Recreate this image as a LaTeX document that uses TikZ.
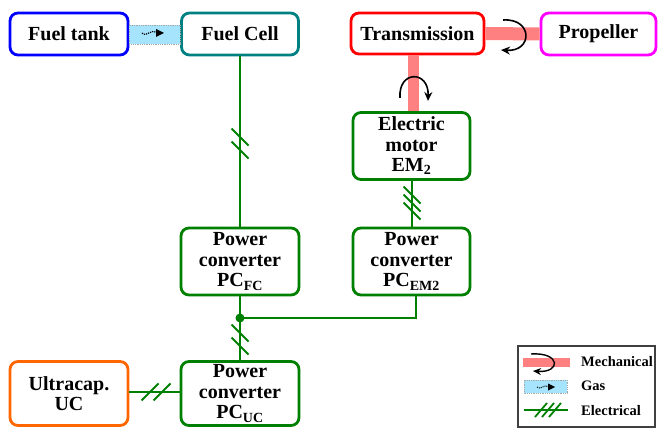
\documentclass[tikz,border=0pt]{standalone}
\usepackage{fontspec}
\setmainfont{Liberation Serif}
\usetikzlibrary{arrows.meta,calc}
\definecolor{cblue}{RGB}{0,0,255}
\definecolor{cteal}{RGB}{0,128,128}
\definecolor{cred}{RGB}{255,0,0}
\definecolor{cmag}{RGB}{255,0,255}
\definecolor{cgreen}{RGB}{0,128,0}
\definecolor{corange}{RGB}{255,102,0}
\definecolor{cmech}{RGB}{255,128,128}
\definecolor{cgas}{RGB}{165,228,252}
\tikzset{
  blk/.style={draw, line width=2.8pt, rounded corners=8pt, fill=white, align=center,
    font=\bfseries\fontsize{20}{20.5}\selectfont, inner sep=0pt},
  elec/.style={draw=cgreen, line width=2.3pt},
  hatchd/.style={cgreen, line width=1.8pt},
  mech/.style={draw=cmech, line width=13pt},
  rot/.style={line width=1.6pt, -{Stealth[length=9pt,width=8pt]}},
  legtxt/.style={anchor=west, font=\bfseries\fontsize{14.5}{15}\selectfont, inner sep=0pt},
  gasbox/.style={fill=cgas, draw=gray!70, densely dotted, line width=0.8pt},
  hdown/.pic={\draw[hatchd] (-8.5,-8.5) -- (8.5,8.5);},
  hup/.pic={\draw[hatchd] (-8.5,8.5) -- (8.5,-8.5);}
}
\begin{document}
\begin{tikzpicture}[x=1pt,y=-1pt]
\useasboundingbox (0,0) rectangle (658,430);
% nodes
\node[blk, draw=cblue, minimum width=118pt, minimum height=42pt] (tank) at (69,34) {Fuel tank};
\node[blk, draw=cteal, minimum width=117pt, minimum height=42pt] (fc) at (240,34) {Fuel Cell};
\node[blk, draw=cred, minimum width=133pt, minimum height=41pt] (trans) at (417.5,33.5) {Transmission};
\node[blk, draw=cmag, minimum width=115pt, minimum height=42pt] (prop) at (598.5,34) {Propeller};
\node[blk, draw=cgreen, minimum width=117pt, minimum height=67pt] (em) at (411.5,146) {Electric\\motor\\EM\textsubscript{2}};
\node[blk, draw=cgreen, minimum width=117pt, minimum height=67pt] (pcem) at (411.5,261.5) {Power\\converter\\PC\textsubscript{EM2}};
\node[blk, draw=cgreen, minimum width=118pt, minimum height=67pt] (pcfc) at (240,261.5) {Power\\converter\\PC\textsubscript{FC}};
\node[blk, draw=cgreen, minimum width=118pt, minimum height=64pt] (pcuc) at (240,393.5) {Power\\converter\\PC\textsubscript{UC}};
\node[blk, draw=corange, minimum width=118pt, minimum height=64pt] (uc) at (69,393.5) {Ultracap.\\UC};
% mechanical links
\draw[mech] (trans.east) -- (prop.west);
\coordinate (tb) at ([xshift=-4pt]trans.south);
\draw[draw=cmech, line width=11pt] (tb) -- (tb |- em.north);
\draw[rot] (503,20) .. controls (533,18) and (533,52) .. (501,50);
\draw[rot] (400,98) .. controls (398,70) and (429,70) .. (428,101);
% gas link
\path[gasbox] ([yshift=-10pt]tank.east) rectangle ([yshift=9pt]fc.west);
\draw[line width=1.2pt, densely dotted] (142,33) .. controls (147,38) and (150,28) .. (157,33);
\fill (156,29) -- (164,33) -- (156,37) -- cycle;
% electrical links
\draw[elec] (fc.south) -- (pcfc.north);
\pic at (240,137) {hdown};
\pic at (240,150) {hdown};
\draw[elec] ([xshift=0.5pt]em.south) -- ([xshift=0.5pt]pcem.north);
\pic at (412,195) {hdown};
\pic at (412,203) {hdown};
\pic at (412,211) {hdown};
\coordinate (jn) at (pcfc.south |- 0,318);
\coordinate (emb) at ([xshift=4.5pt]pcem.south);
\draw[elec] (pcfc.south) -- (jn) -- (jn -| emb) -- (emb);
\fill[cgreen] (jn) circle (4.5pt);
\draw[elec] (jn) -- (pcuc.north);
\pic at (240,333) {hdown};
\pic at (240,346) {hdown};
\draw[elec] (uc.east |- 0,392) -- (pcuc.west |- 0,392);
\pic at (150,392) {hup};
\pic at (162,392) {hup};
% legend
\node[draw=black!75, line width=1.2pt, minimum width=137pt, minimum height=81pt, inner sep=0pt] (leg) at (586.5,386.5) {};
\fill[cmech] (523,358) rectangle (570,367);
\draw[rot, line width=1.4pt, -{Stealth[length=8pt,width=7pt]}] (531,354) .. controls (561,352) and (561,373) .. (533,371);
\node[legtxt] (lm) at (581,362) {Mechanical};
\path[gasbox] (524,380) rectangle (567,393);
\draw[line width=1pt, densely dotted] (537,387) .. controls (541,391) and (544,383) .. (549,387);
\fill (548,383.5) -- (555,387) -- (548,390.5) -- cycle;
\node[legtxt] (lg) at (581,386) {Gas};
\draw[elec] (524,410) -- (568,410);
\draw[hatchd] (535,417) -- (547,403);
\draw[hatchd] (542,417) -- (554,403);
\draw[hatchd] (549,417) -- (561,403);
\node[legtxt] (le) at (581,411) {Electrical};
\end{tikzpicture}
\end{document}
